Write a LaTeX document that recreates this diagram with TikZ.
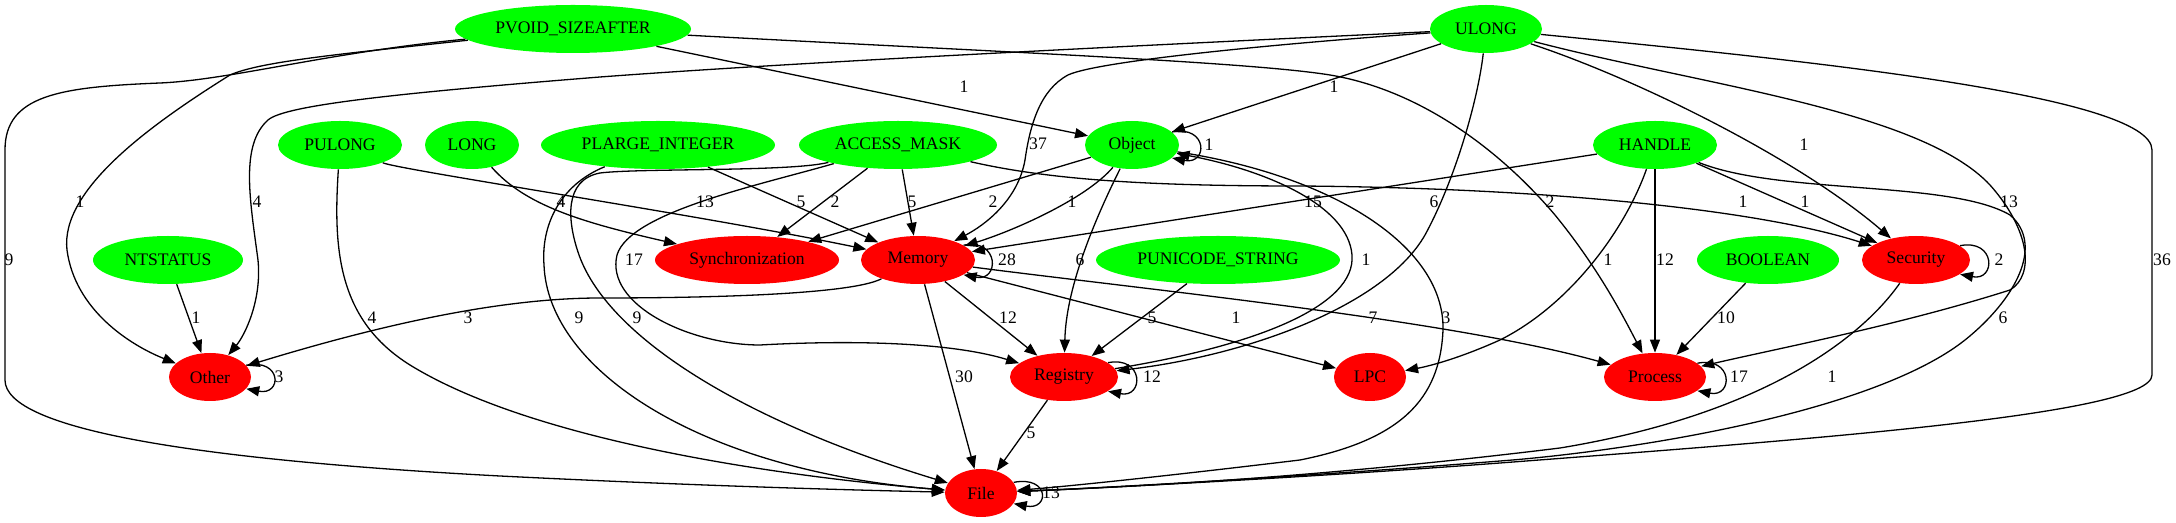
\documentclass[tikz,border=0pt]{standalone}
\usepackage{fontspec}
\setmainfont{Liberation Serif}
\usetikzlibrary{shapes.geometric,arrows.meta}
\definecolor{gvgreen}{RGB}{0,255,0}
\definecolor{gvred}{RGB}{255,0,0}
\begin{document}
\begin{tikzpicture}[x=0.5pt,y=-0.5pt,
  every node/.style={font=\fontsize{8.8}{10}\selectfont},
  nd/.style={ellipse, inner sep=0pt, minimum height=24pt},
  src/.style={nd, fill=gvgreen},
  dst/.style={nd, fill=gvred},
  e/.style={draw=black, line width=0.65pt, -{Triangle[length=6.5pt,width=5pt]}},
  lbl/.style={inner sep=0pt}]
\useasboundingbox (0,0) rectangle (2176,523);
% nodes
\node[src,minimum width=118pt] (pvoid) at (573,29) {PVOID\_SIZEAFTER};
\node[src,minimum width=56pt] (ulong) at (1486,29) {ULONG};
\node[src,minimum width=62pt] (pulong) at (340,145) {PULONG};
\node[src,minimum width=47pt] (long) at (472,145) {LONG};
\node[src,minimum width=117pt] (plarge) at (658,145) {PLARGE\_INTEGER};
\node[src,minimum width=99pt] (amask) at (898,145) {ACCESS\_MASK};
\node[src,minimum width=47pt] (object) at (1132,145) {Object};
\node[src,minimum width=62pt] (handle) at (1655,145) {HANDLE};
\node[src,minimum width=75pt] (ntstatus) at (168,260) {NTSTATUS};
\node[dst,minimum width=92pt] (sync) at (747,260) {Synchronization};
\node[dst,minimum width=57pt] (memory) at (918,260) {Memory};
\node[src,minimum width=122pt] (punicode) at (1218,260) {PUNICODE\_STRING};
\node[src,minimum width=71pt] (boolean) at (1768,260) {BOOLEAN};
\node[dst,minimum width=54pt] (security) at (1916,260) {Security};
\node[dst,minimum width=41pt] (other) at (210,377) {Other};
\node[dst,minimum width=54pt] (registry) at (1064,377) {Registry};
\node[dst,minimum width=36pt] (lpc) at (1370,377) {LPC};
\node[dst,minimum width=51pt] (process) at (1655,377) {Process};
\node[dst,minimum width=36pt] (file) at (981,493) {File};

% PVOID_SIZEAFTER
\draw[e] (pvoid) -- (object);
\draw[e] (pvoid) .. controls (1000,52) and (1250,62) .. (1330,75) .. controls (1420,90) and (1500,150) .. (1555,215) .. controls (1600,270) and (1625,320) .. (process);
\draw[e] (pvoid) .. controls (330,55) and (260,62) .. (230,75) .. controls (150,125) and (60,190) .. (67,250) .. controls (75,310) and (130,345) .. (other);
\draw[e] (pvoid) .. controls (330,52) and (230,80) .. (160,83) .. controls (60,87) and (5,95) .. (5,150) -- (5,380) .. controls (5,430) and (200,460) .. (500,476) .. controls (700,486) and (850,490) .. (file);
% ULONG
\draw[e] (ulong) .. controls (1150,45) and (800,62) .. (600,77) .. controls (400,93) and (285,105) .. (268,120) .. controls (240,145) and (250,200) .. (258,260) .. controls (262,300) and (245,335) .. (other);
\draw[e] (ulong) .. controls (1300,42) and (1100,60) .. (1068,75) .. controls (1040,90) and (1030,125) .. (1025,160) .. controls (1018,200) and (985,225) .. (memory);
\draw[e] (ulong) -- (object);
\draw[e] (ulong) .. controls (1478,100) and (1455,180) .. (1425,235) .. controls (1385,305) and (1250,355) .. (registry);
\draw[e] (ulong) .. controls (1640,80) and (1800,160) .. (security);
\draw[e] (ulong) .. controls (1700,85) and (1920,110) .. (1990,185) .. controls (2030,230) and (2035,275) .. (2010,290) .. controls (1900,325) and (1780,348) .. (process);
\draw[e] (ulong) .. controls (1800,60) and (2152,95) .. (2152,150) -- (2152,375) .. controls (2152,415) and (1800,440) .. (1500,463) .. controls (1300,478) and (1100,488) .. (file);
% PULONG, LONG, PLARGE_INTEGER
\draw[e] (pulong) .. controls (400,170) and (700,215) .. (memory);
\draw[e] (pulong) .. controls (333,250) and (338,320) .. (410,365) .. controls (540,445) and (800,478) .. (file);
\draw[e] (long) .. controls (525,205) and (580,222) .. (sync);
\draw[e] (plarge) -- (memory);
\draw[e] (plarge) .. controls (560,185) and (541,225) .. (544,265) .. controls (548,370) and (700,470) .. (file);
% ACCESS_MASK
\draw[e] (amask) -- (sync);
\draw[e] (amask) -- (memory);
\draw[e] (amask) .. controls (1050,180) and (1150,186) .. (1300,186) .. controls (1550,188) and (1760,210) .. (security);
\draw[e] (amask) .. controls (760,185) and (630,212) .. (617,255) .. controls (605,305) and (690,345) .. (760,345) .. controls (850,340) and (950,342) .. (registry);
\draw[e] (amask) .. controls (790,172) and (640,168) .. (600,173) .. controls (563,180) and (568,222) .. (578,252) .. controls (605,335) and (740,420) .. (file);
% Object
\draw[e] (object.18) .. controls +(36,-7) and +(36,7) .. (object.-18);
\draw[e] (object) -- (sync);
\draw[e] (object) .. controls (1085,200) and (1010,232) .. (memory);
\draw[e] (object) .. controls (1092,225) and (1066,290) .. (registry);
\draw[e] (object) .. controls (1330,175) and (1445,245) .. (1443,330) .. controls (1440,400) and (1400,440) .. (1300,460) .. controls (1150,478) and (1060,487) .. (file);
% HANDLE
\draw[e] (handle) -- (memory);
\draw[e] (handle) .. controls (1625,230) and (1570,305) .. (1500,340) .. controls (1460,358) and (1430,366) .. (lpc);
\draw[e] (handle) -- (process);
\draw[e] (handle) -- (security);
\draw[e] (handle) .. controls (1780,195) and (1950,180) .. (2010,215) .. controls (2045,245) and (2015,300) .. (1965,340) .. controls (1870,415) and (1620,452) .. (1500,461) .. controls (1300,477) and (1100,488) .. (file);
% NTSTATUS, PUNICODE_STRING, BOOLEAN
\draw[e] (ntstatus) -- (other);
\draw[e] (punicode) -- (registry);
\draw[e] (boolean) -- (process);
% Memory
\draw[e] (memory.18) .. controls +(36,-7) and +(36,7) .. (memory.-18);
\draw[e] (memory) .. controls (850,295) and (700,298) .. (600,298) .. controls (500,298) and (380,325) .. (other);
\draw[e] (memory) -- (registry);
\draw[e] (memory) -- (lpc);
\draw[e] (memory) .. controls (1150,290) and (1450,320) .. (process);
\draw[e] (memory) -- (file);
% Security
\draw[e] (security.18) .. controls +(36,-7) and +(36,7) .. (security.-18);
\draw[e] (security) .. controls (1860,340) and (1760,415) .. (1560,448) .. controls (1300,480) and (1100,488) .. (file);
% Registry
\draw[e] (registry.18) .. controls +(36,-7) and +(36,7) .. (registry.-18);
\draw[e] (registry) .. controls (1260,345) and (1356,305) .. (1352,255) .. controls (1348,205) and (1265,170) .. (object);
\draw[e] (registry) -- (file);
% loops
\draw[e] (other.18) .. controls +(36,-7) and +(36,7) .. (other.-18);
\draw[e] (process.18) .. controls +(36,-7) and +(36,7) .. (process.-18);
\draw[e] (file.18) .. controls +(36,-7) and +(36,7) .. (file.-18);

% labels
\node[lbl] (l01) at (964,87) {1};
\node[lbl] (l02) at (1334,87) {1};
\node[lbl] (l03) at (1038,144) {37};
\node[lbl] (l04) at (1804,145) {1};
\node[lbl] (l05) at (1209,145) {1};
\node[lbl] (l06) at (80,202) {1};
\node[lbl] (l07) at (257,202) {4};
\node[lbl] (l08) at (561,202) {4};
\node[lbl] (l09) at (705,202) {13};
\node[lbl] (l10) at (801,202) {5};
\node[lbl] (l11) at (835,202) {2};
\node[lbl] (l12) at (912,202) {5};
\node[lbl] (l13) at (993,202) {2};
\node[lbl] (l14) at (1072,202) {1};
\node[lbl] (l15) at (1313,202) {15};
\node[lbl] (l16) at (1434,202) {6};
\node[lbl] (l17) at (1550,202) {2};
\node[lbl] (l18) at (1743,202) {1};
\node[lbl] (l19) at (1805,202) {1};
\node[lbl] (l20) at (2009,202) {13};
\node[lbl] (l21) at (9,260) {9};
\node[lbl] (l22) at (634,260) {17};
\node[lbl] (l23) at (1007,260) {28};
\node[lbl] (l24) at (1080,260) {6};
\node[lbl] (l25) at (1366,260) {1};
\node[lbl] (l26) at (1608,260) {1};
\node[lbl] (l27) at (1665,260) {12};
\node[lbl] (l28) at (1999,260) {2};
\node[lbl] (l29) at (2162,260) {36};
\node[lbl] (l30) at (196,318) {1};
\node[lbl] (l31) at (372,318) {4};
\node[lbl] (l32) at (468,318) {3};
\node[lbl] (l33) at (579,318) {9};
\node[lbl] (l34) at (637,318) {9};
\node[lbl] (l35) at (1008,318) {12};
\node[lbl] (l36) at (1152,318) {5};
\node[lbl] (l37) at (1236,318) {1};
\node[lbl] (l38) at (1373,318) {7};
\node[lbl] (l39) at (1446,318) {3};
\node[lbl] (l40) at (1726,318) {10};
\node[lbl] (l41) at (2003,318) {6};
\node[lbl] (l42) at (279,377) {3};
\node[lbl] (l43) at (964,377) {30};
\node[lbl] (l44) at (1152,377) {12};
\node[lbl] (l45) at (1739,377) {17};
\node[lbl] (l46) at (1832,377) {1};
\node[lbl] (l47) at (1031,433) {5};
\node[lbl] (l48) at (1051,493) {13};
\end{tikzpicture}
\end{document}
